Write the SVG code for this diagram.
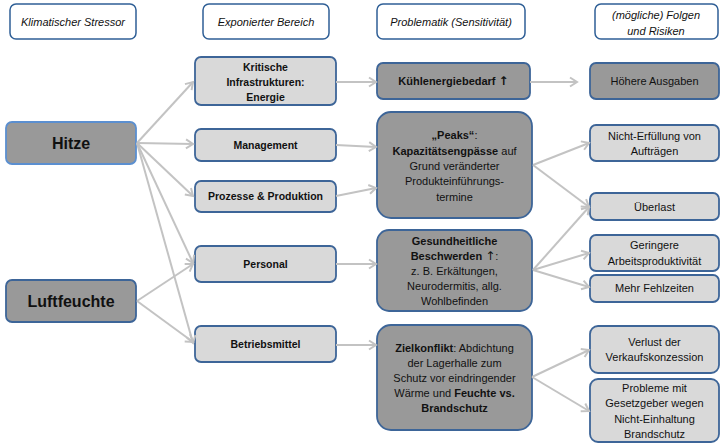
<svg xmlns="http://www.w3.org/2000/svg" width="720" height="443" viewBox="0 0 720 443">
  <style>
    text { font-family: "Liberation Sans", Arial, sans-serif; fill: #111; text-anchor: middle; }
    .hdr rect { fill: #ffffff; stroke: #2f5f96; stroke-width: 1.5; }
    .hdr text { font-size: 11px; font-style: italic; }
    .dark rect { fill: #999999; stroke: #3d6598; stroke-width: 1.8; }
    .light rect { fill: #d9d9d9; stroke: #3d6598; stroke-width: 1.8; }
    .stress text { font-size: 16px; font-weight: bold; }
    .area text { font-size: 10.5px; font-weight: bold; }
    .prob text, .cons text { font-size: 11px; }
    .b { font-weight: bold; }
    .up { font-family: "DejaVu Sans", sans-serif; font-size: 12px; }
    #connectors path { fill: none; stroke: #c3c3c3; stroke-width: 2; marker-end: url(#arrow); }
  </style>
  <defs>
    <marker id="arrow" markerUnits="userSpaceOnUse" markerWidth="12" markerHeight="12" refX="9" refY="6" orient="auto">
      <path d="M2,1.5 L9,6 L2,10.5" fill="none" stroke="#c3c3c3" stroke-width="2"/>
    </marker>
  </defs>

  <!-- column headers -->
  <g id="hdr-stressor" class="hdr">
    <rect x="10" y="4" width="126" height="35" rx="6"/>
    <text x="73" y="26">Klimatischer Stressor</text>
  </g>
  <g id="hdr-bereich" class="hdr">
    <rect x="203" y="4" width="126" height="35" rx="6"/>
    <text x="266" y="26">Exponierter Bereich</text>
  </g>
  <g id="hdr-problematik" class="hdr">
    <rect x="377" y="4" width="148" height="35" rx="6"/>
    <text x="451" y="26">Problematik (Sensitivität)</text>
  </g>
  <g id="hdr-folgen" class="hdr">
    <rect x="595" y="4" width="123" height="35" rx="6"/>
    <text x="656" y="19">(mögliche) Folgen</text>
    <text x="656" y="35">und Risiken</text>
  </g>

  <!-- climatic stressors -->
  <g id="hitze" class="dark stress">
    <rect x="6" y="122" width="130" height="42" rx="6" style="stroke:#5b8fd0"/>
    <text x="71" y="149">Hitze</text>
  </g>
  <g id="luftfeuchte" class="dark stress">
    <rect x="6" y="280" width="130" height="42" rx="6"/>
    <text x="71" y="307">Luftfeuchte</text>
  </g>

  <!-- exposed areas -->
  <g id="kritis" class="light area">
    <rect x="195" y="57" width="141" height="48" rx="6"/>
    <text x="265.5" y="71">Kritische</text>
    <text x="265.5" y="86">Infrastrukturen:</text>
    <text x="265.5" y="101">Energie</text>
  </g>
  <g id="management" class="light area">
    <rect x="195" y="129" width="141" height="32" rx="6"/>
    <text x="265.5" y="149">Management</text>
  </g>
  <g id="prozesse" class="light area">
    <rect x="195" y="181" width="141" height="31" rx="6"/>
    <text x="265.5" y="200">Prozesse &amp; Produktion</text>
  </g>
  <g id="personal" class="light area">
    <rect x="195" y="246" width="141" height="36" rx="6"/>
    <text x="265.5" y="268">Personal</text>
  </g>
  <g id="betriebsmittel" class="light area">
    <rect x="195" y="326" width="141" height="36" rx="6"/>
    <text x="265.5" y="348">Betriebsmittel</text>
  </g>

  <!-- problems -->
  <g id="kuehlenergie" class="dark prob">
    <rect x="377" y="63" width="153" height="36" rx="6"/>
    <text x="453.5" y="85" class="b">Kühlenergiebedarf <tspan class="up">↑</tspan></text>
  </g>
  <g id="peaks" class="dark prob">
    <rect x="377" y="112" width="155" height="106" rx="14"/>
    <text x="454.5" y="139"><tspan class="b">„Peaks“</tspan>:</text>
    <text x="454.5" y="155"><tspan class="b">Kapazitätsengpässe</tspan> auf</text>
    <text x="454.5" y="170">Grund veränderter</text>
    <text x="454.5" y="185">Produkteinführungs-</text>
    <text x="454.5" y="201">termine</text>
  </g>
  <g id="gesundheit" class="dark prob">
    <rect x="377" y="230" width="155" height="81" rx="12"/>
    <text x="454.5" y="245" class="b">Gesundheitliche</text>
    <text x="454.5" y="260"><tspan class="b">Beschwerden</tspan> <tspan class="up" style="font-weight:normal">↑</tspan>:</text>
    <text x="454.5" y="275">z. B. Erkältungen,</text>
    <text x="454.5" y="290">Neurodermitis, allg.</text>
    <text x="454.5" y="305">Wohlbefinden</text>
  </g>
  <g id="zielkonflikt" class="dark prob">
    <rect x="377" y="325" width="155" height="105" rx="14"/>
    <text x="454.5" y="352"><tspan class="b">Zielkonflikt</tspan>: Abdichtung</text>
    <text x="454.5" y="367">der Lagerhalle zum</text>
    <text x="454.5" y="382">Schutz vor eindringender</text>
    <text x="454.5" y="397">Wärme und <tspan class="b">Feuchte vs.</tspan></text>
    <text x="454.5" y="412" class="b">Brandschutz</text>
  </g>

  <!-- consequences -->
  <g id="ausgaben" class="dark cons">
    <rect x="590" y="63" width="129" height="36" rx="6"/>
    <text x="654.5" y="85">Höhere Ausgaben</text>
  </g>
  <g id="nichterfuellung" class="light cons">
    <rect x="590" y="125" width="129" height="36" rx="6"/>
    <text x="654.5" y="140">Nicht-Erfüllung von</text>
    <text x="654.5" y="155">Aufträgen</text>
  </g>
  <g id="ueberlast" class="light cons">
    <rect x="590" y="193" width="129" height="27" rx="6"/>
    <text x="654.5" y="211">Überlast</text>
  </g>
  <g id="produktivitaet" class="light cons">
    <rect x="590" y="235" width="129" height="36" rx="6"/>
    <text x="654.5" y="249">Geringere</text>
    <text x="654.5" y="265">Arbeitsproduktivität</text>
  </g>
  <g id="fehlzeiten" class="light cons">
    <rect x="590" y="275" width="129" height="27" rx="6"/>
    <text x="654.5" y="292">Mehr Fehlzeiten</text>
  </g>
  <g id="verkaufskonzession" class="light cons">
    <rect x="590" y="326" width="129" height="47" rx="8"/>
    <text x="654.5" y="346">Verlust der</text>
    <text x="654.5" y="361">Verkaufskonzession</text>
  </g>
  <g id="gesetzgeber" class="light cons">
    <rect x="590" y="379" width="129" height="63" rx="8"/>
    <text x="654.5" y="392">Probleme mit</text>
    <text x="654.5" y="407">Gesetzgeber wegen</text>
    <text x="654.5" y="423">Nicht-Einhaltung</text>
    <text x="654.5" y="438">Brandschutz</text>
  </g>

  <!-- connectors -->
  <g id="connectors">
    <path d="M137,143 L193,82"/>
    <path d="M137,143 L193,144"/>
    <path d="M137,143 L193,196"/>
    <path d="M137,143 L193,263"/>
    <path d="M137,143 L193,343"/>
    <path d="M137,301 L193,264"/>
    <path d="M137,301 L193,342"/>
    <path d="M336,82 L376,82"/>
    <path d="M530,82 L577,82"/>
    <path d="M336,145 L376,147"/>
    <path d="M336,196 L376,188"/>
    <path d="M336,264 L376,264"/>
    <path d="M336,345 L376,345"/>
    <path d="M533,165 L589,143"/>
    <path d="M533,165 L589,207"/>
    <path d="M533,270 L589,207"/>
    <path d="M533,270 L589,253"/>
    <path d="M533,270 L589,287"/>
    <path d="M532,377 L589,350"/>
    <path d="M532,377 L589,411"/>
  </g>
</svg>
